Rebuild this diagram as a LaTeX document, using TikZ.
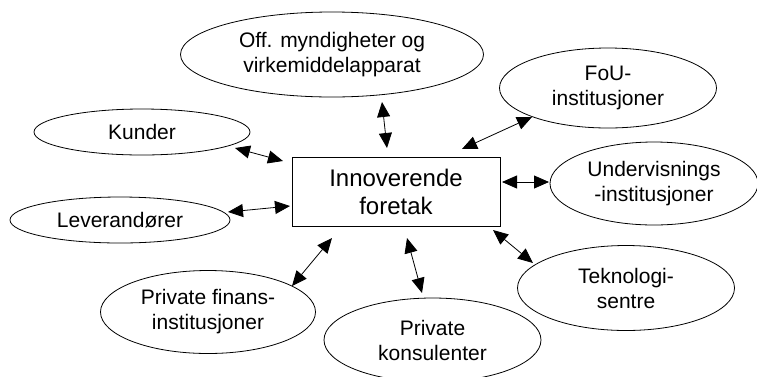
\documentclass[tikz,border=0pt]{standalone}
\usepackage{fontspec}
\setmainfont{Liberation Sans}
\usepackage{tikz}
\usetikzlibrary{arrows.meta,shapes.geometric}
\tikzstyle{link} = [line width=0.8pt,{Triangle[length=15pt,width=13pt]}-{Triangle[length=15pt,width=13pt]}]
\tikzstyle{actor} = [ellipse, draw, line width=0.8pt, inner sep=0pt, align=center, font=\fontsize{21}{25}\selectfont]
\tikzstyle{firm} = [rectangle, draw, line width=0.8pt, minimum width=208pt, minimum height=69pt, align=center, font=\fontsize{24}{28}\selectfont]

\begin{document}
\begin{tikzpicture}[x=1pt,y=-1pt]
\useasboundingbox (0,0) rectangle (757,376);
% Innovating firm in the middle
\node[firm] (foretak) at (396,191.5) {Innoverende\\foretak};

% Surrounding actors
\node[actor, minimum width=303pt, minimum height=85pt] (offentlig) at (332,54.5) {Off. myndigheter og\\virkemiddelapparat};
\node[actor, minimum width=216pt, minimum height=46pt] (kunder) at (142,132) {Kunder};
\node[actor, minimum width=220pt, minimum height=46pt] (leverandor) at (120,220) {Leverand\o rer};
\node[actor, minimum width=217pt, minimum height=80pt] (fou) at (608,88) {FoU-\\institusjoner};
\node[actor, minimum width=208pt, minimum height=83pt] (undervisning) at (654,183.5) {Undervisnings\\-institusjoner};
\node[actor, minimum width=217pt, minimum height=85pt] (teknologi) at (626,288) {Teknologi-\\sentre};
\node[actor, minimum width=217pt, minimum height=84pt] (konsulent) at (432.5,340) {Private\\konsulenter};
\node[actor, minimum width=215pt, minimum height=83pt] (finans) at (208,312) {Private finans-\\institusjoner};

% Arrow ends
\coordinate (offentlig-a) at (382,102);
\coordinate (offentlig-b) at (387,148);
\coordinate (kunder-a) at (235,148);
\coordinate (kunder-b) at (283,161);
\coordinate (leverandor-a) at (228,212);
\coordinate (leverandor-b) at (290,206);
\coordinate (fou-a) at (462,149);
\coordinate (fou-b) at (532,117);
\coordinate (undervisning-a) at (502,182);
\coordinate (undervisning-b) at (549,182);
\coordinate (teknologi-a) at (493,230);
\coordinate (teknologi-b) at (533,263);
\coordinate (konsulent-a) at (407,238);
\coordinate (konsulent-b) at (422,293);
\coordinate (finans-a) at (332,238);
\coordinate (finans-b) at (292,286);

\draw[link] (offentlig-a) -- (offentlig-b);
\draw[link] (kunder-a) -- (kunder-b);
\draw[link] (leverandor-a) -- (leverandor-b);
\draw[link] (fou-a) -- (fou-b);
\draw[link] (undervisning-a) -- (undervisning-b);
\draw[link] (teknologi-a) -- (teknologi-b);
\draw[link] (konsulent-a) -- (konsulent-b);
\draw[link] (finans-a) -- (finans-b);
\end{tikzpicture}
\end{document}
